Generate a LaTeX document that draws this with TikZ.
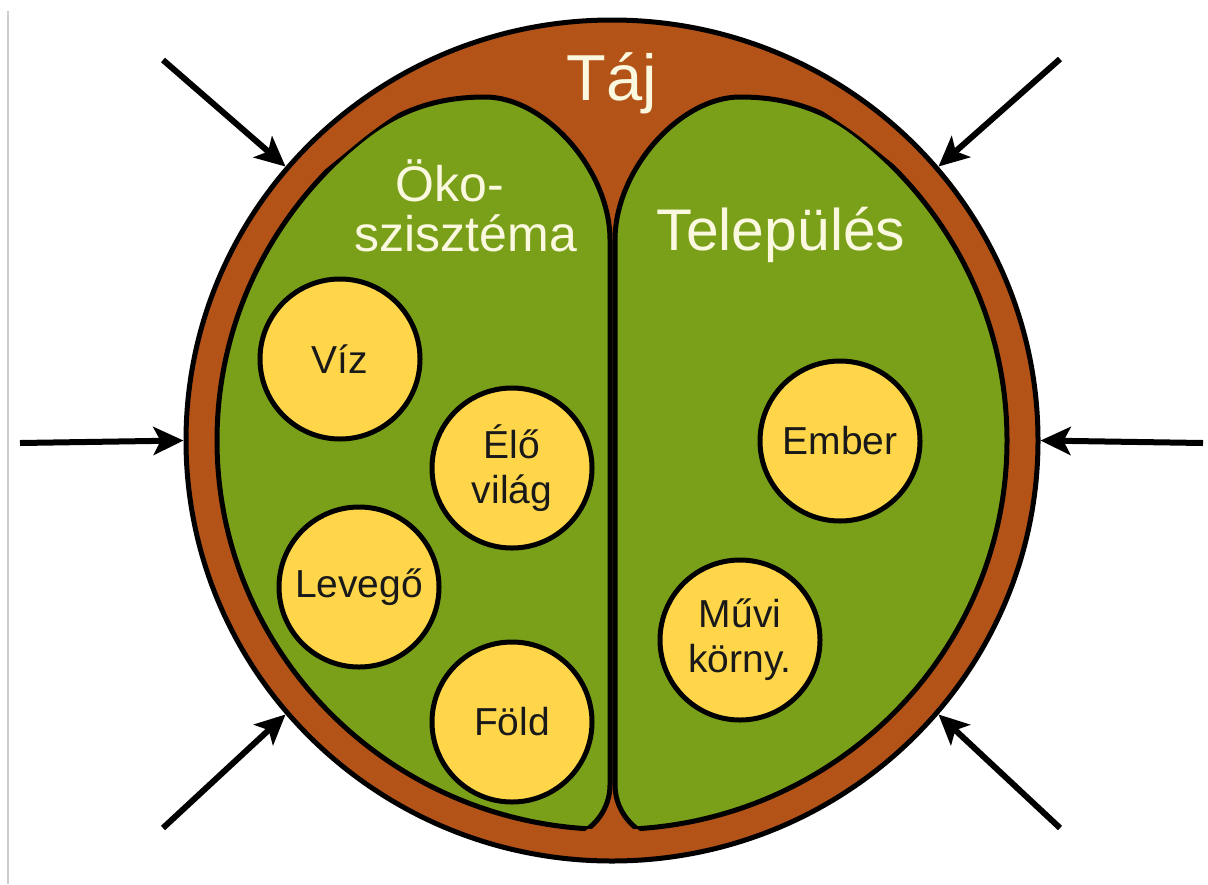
\documentclass[tikz,border=0pt]{standalone}
\usepackage{fontspec}
\setmainfont{Liberation Sans}
\usetikzlibrary{arrows.meta,shapes.geometric}
\definecolor{ringbrown}{RGB}{180,83,24}
\definecolor{lobegreen}{RGB}{122,160,26}
\definecolor{dotyellow}{RGB}{255,214,74}
\definecolor{cream}{RGB}{250,248,222}
\definecolor{rulegray}{RGB}{205,205,205}
\begin{document}
\begin{tikzpicture}[x=0.5pt,y=-0.5pt,
  ink/.style={draw=black, line width=2.5pt},
  elem/.style={circle, draw=black, line width=2.5pt, fill=dotyellow, minimum size=80pt, inner sep=0pt, align=center, font=\fontsize{19.5}{22.5}\selectfont, text=black!90},
  title/.style={text=cream, inner sep=0pt, align=center},
  arr/.style={line width=3pt, -{Stealth[length=15pt,width=14pt,inset=3.5pt]}},
  leftlobe/.style={insert path={(150,840) -- (150,190) -- (300,190) -- (360,141) .. controls (400,108.4) and (440,97) .. (485,97) .. controls (545,97) and (610,170) .. (610,240) -- (610,785) .. controls (610,815) and (585,840) .. (555,840) -- cycle}},
  rightlobe/.style={insert path={(1075,840) -- (1075,190) -- (925,190) -- (865,141) .. controls (825,108.4) and (785,97) .. (740,97) .. controls (680,97) and (615,170) .. (615,240) -- (615,785) .. controls (615,815) and (640,840) .. (670,840) -- cycle}},
  innerring/.style={insert path={(612,440.5) ellipse [x radius=395, y radius=389]}}
]
\useasboundingbox (0,0) rectangle (1208,884);
\draw[rulegray, line width=1pt] (8,11) -- (8,884);

% outer ring
\node[ellipse, draw=black, line width=2.5pt, fill=ringbrown, minimum width=426pt, minimum height=420.5pt, inner sep=0pt] (taj) at (612,440.5) {};

% lobes: fill and outline inside inner ring
\begin{scope}
  \clip[innerring];
  \fill[lobegreen, leftlobe];
  \fill[lobegreen, rightlobe];
  \draw[ink, leftlobe];
  \draw[ink, rightlobe];
\end{scope}
\begin{scope}
  \clip[leftlobe];
  \draw[ink, innerring];
\end{scope}
\begin{scope}
  \clip[rightlobe];
  \draw[ink, innerring];
\end{scope}

% titles
\node[title, font=\fontsize{32.5}{36}\selectfont, anchor=base] (tajlabel) at (612,100) {Táj};
\node[title, font=\fontsize{25}{25}\selectfont] (oko) at (466,206) {Öko-\hspace*{16pt}\\szisztéma};
\node[title, font=\fontsize{29.4}{31}\selectfont, anchor=base] (telep) at (781,250) {Település};

% elements
\node[elem] (viz) at (340,359) {Víz};
\node[elem] (elo) at (512,468) {Élő\\világ};
\node[elem] (levego) at (359,587) {Levegő};
\node[elem] (fold) at (512,722) {Föld};
\node[elem] (ember) at (840,441) {Ember};
\node[elem] (muvi) at (740,640) {Művi\\körny.};

% arrows
\coordinate (s1) at (163,60);
\coordinate (s2) at (1060,59);
\coordinate (s3) at (20,443);
\coordinate (s4) at (1203,443);
\coordinate (s5) at (163,828);
\coordinate (s6) at (1060,828);
\draw[arr] (s1) -- (taj.140);
\draw[arr] (s2) -- (taj.40);
\draw[arr] (s3) -- (taj.180);
\draw[arr] (s4) -- (taj.0);
\draw[arr] (s5) -- (taj.220);
\draw[arr] (s6) -- (taj.320);
\end{tikzpicture}
\end{document}
